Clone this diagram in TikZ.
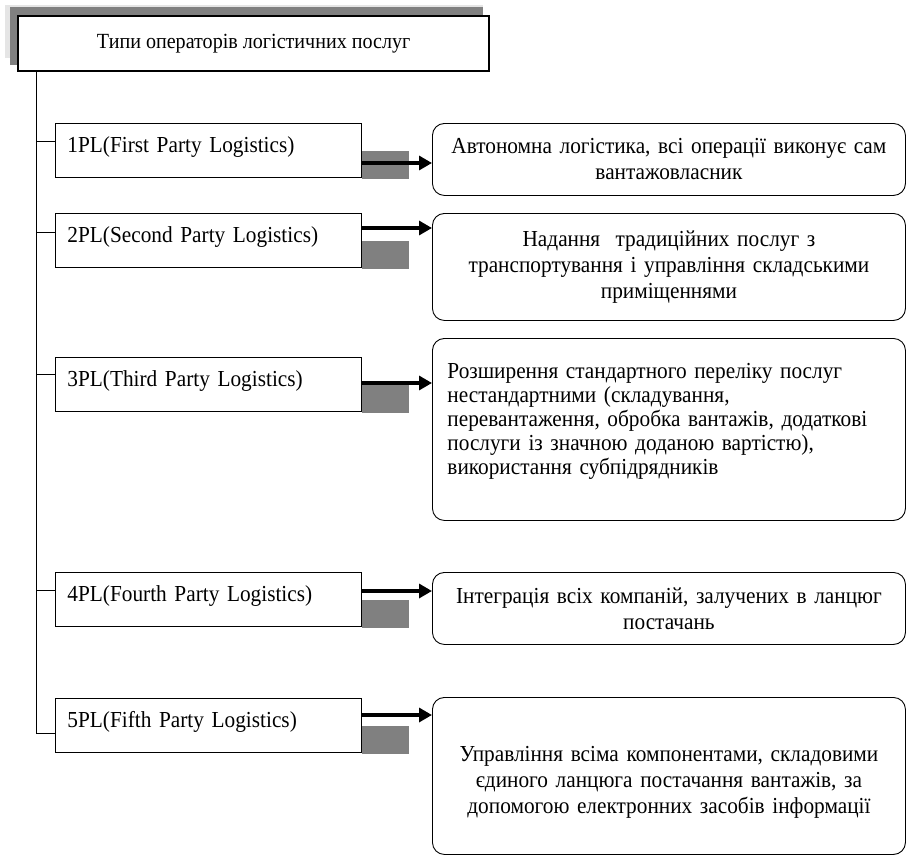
\documentclass[tikz,border=0pt]{standalone}
\usepackage{fontspec}
\setmainfont{Liberation Serif}[FakeStretch=0.93]
\usetikzlibrary{calc,arrows.meta}

\begin{document}
\begin{tikzpicture}[x=1pt,y=-1pt,font=\fontsize{22.9}{26}\selectfont,
  headbox/.style={draw,line width=2.4pt,fill=white,anchor=north west,minimum width=471pt,minimum height=55pt,inner sep=0pt,font=\fontsize{21.6}{25}\selectfont},
  plbox/.style={draw,line width=0.9pt,fill=white,anchor=north west,minimum width=306pt,text width=282pt,inner xsep=12pt,inner ysep=0pt,text height=29pt,text depth=25pt,align=left},
  infobox/.style={draw,line width=0.9pt,rounded corners=12pt,anchor=north west,minimum width=473pt,text width=466pt,inner xsep=3pt,align=center},
  link/.style={line width=3.2pt,-{Triangle[length=13pt,width=14pt]}},
  greyblock/.style={fill=black!50}]
  \useasboundingbox (0,0) rectangle (906,855);
  % title with its two shadows
  \fill[black!10] (5,5) rectangle (483,58);
  \fill[black!50] (10,7) rectangle (483,65);
  \node[headbox] (head) at (17,15) {Типи операторів логістичних послуг};
  \coordinate (root) at (36,70);
  % operator types
  \foreach \i/\top/\lbl in {1/123/1PL(First Party Logistics),2/213/2PL(Second Party Logistics),3/357/3PL(Third Party Logistics),4/572/4PL(Fourth Party Logistics),5/698/5PL(Fifth Party Logistics)}
    \node[plbox] (p\i) at (55,\top) {\lbl};
  % descriptions
  \node[infobox,minimum height=72pt] (r1) at (432,123) {Автономна логістика, всі операції виконує сам\\вантажовласник};
  \node[infobox,minimum height=107pt] (r2) at (432,213) {Надання \ традиційних послуг з\\транспортування і управління складськими\\приміщеннями};
  \node[infobox,minimum height=182pt,align=left,inner xsep=15pt,text width=443pt,font=\fontsize{22.9}{24}\selectfont] (r3) at (432,338) {Розширення стандартного переліку послуг\\нестандартними (складування,\\перевантаження, обробка вантажів, додаткові\\послуги із значною доданою вартістю),\\використання субпідрядників\rule[-22pt]{0pt}{22pt}};
  \node[infobox,minimum height=72pt] (r4) at (432,572) {Інтеграція всіх компаній, залучених в ланцюг\\постачань};
  \node[infobox,minimum height=157pt] (r5) at (432,697) {\rule{0pt}{27pt}Управління всіма компонентами, складовими\\єдиного ланцюга постачання вантажів, за\\допомогою електронних засобів інформації};
  % ticks, grey blocks and arrows
  \foreach \i/\tk/\ar in {1/18/40,2/19/15,3/17/26,4/18/19,5/35/17}{
    \coordinate (k\i) at ($(p\i.north west)+(0,\tk)$);
    \draw[line width=0.9pt] (k\i) -- (k\i -| root);
    \fill[greyblock] ($(p\i.south east)+(0,-27)$) rectangle ($(p\i.south east)+(47,1)$);
    \coordinate (a\i) at ($(p\i.north east)+(0,\ar)$);
    \draw[link] (a\i) -- (a\i -| r\i.west);
  }
  \draw[line width=0.9pt] (root) -- (root |- k5);
\end{tikzpicture}
\end{document}
